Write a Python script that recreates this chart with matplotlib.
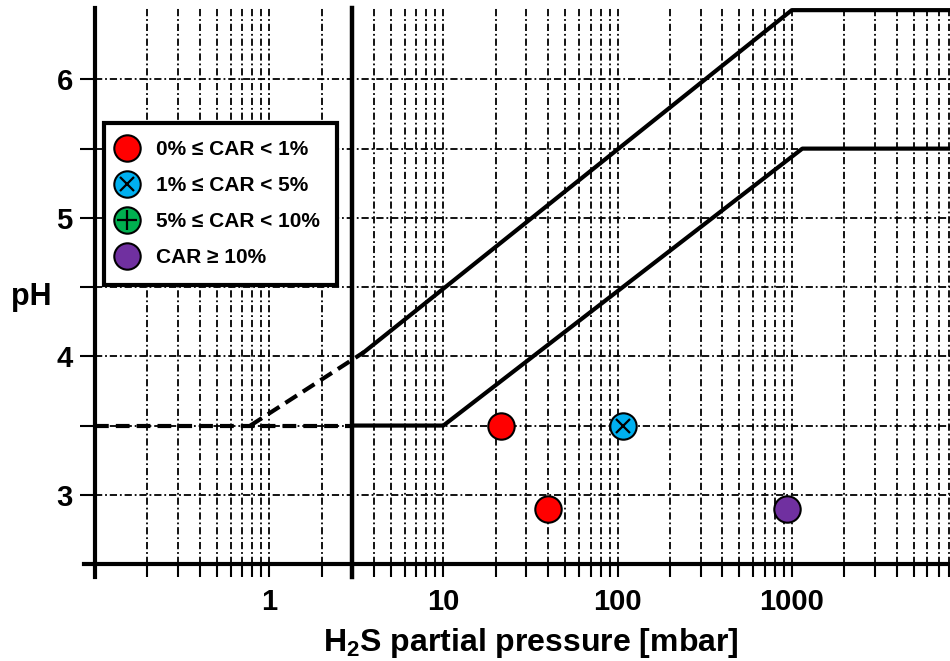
import matplotlib
matplotlib.use('Agg')
import matplotlib.pyplot as plt
from matplotlib.lines import Line2D
from matplotlib.ticker import FixedLocator, FixedFormatter, LogLocator, NullFormatter

plt.rcParams['font.family'] = ['Liberation Sans', 'DejaVu Sans']
plt.rcParams['font.weight'] = 'bold'
plt.rcParams['mathtext.default'] = 'regular'

# boundary lines: H2S partial pressure [mbar] vs pH
lower_dash_p = [0.1, 3]
lower_dash_ph = [3.5, 3.5]
lower_p = [3, 10, 1150, 8100]
lower_ph = [3.5, 3.5, 5.5, 5.5]
upper_dash_p = [0.78, 3.5]
upper_dash_ph = [3.5, 4.03]
upper_p = [3.5, 1000, 8100]
upper_ph = [4.03, 6.5, 6.5]
limit_p = 3

# test results by CAR class
red_p = [21.5, 40]
red_ph = [3.5, 2.9]
blue_p = [108]
blue_ph = [3.5]
green_p = []
green_ph = []
purple_p = [940]
purple_ph = [2.9]

labels = ['0% ≤ CAR < 1%', '1% ≤ CAR < 5%', '5% ≤ CAR < 10%', 'CAR ≥ 10%']
xticks = [1, 10, 100, 1000]
xticklabels = ['1', '10', '100', '1000']
yticks = [3, 4, 5, 6]
yminor = [3.5, 4.5, 5.5]

RED = '#FF0000'
BLUE = '#00B0F0'
GREEN = '#00B050'
PURPLE = '#7030A0'
MS = 19

fig = plt.figure(figsize=(9.5, 6.61), dpi=100)
ax = fig.add_axes([0.1, 0.1467, 0.9, 0.8411])
ax.set_xscale('log')
ax.set_xlim(0.1, 8100)
ax.set_ylim(2.5, 6.515)

ax.xaxis.set_major_locator(FixedLocator(xticks))
ax.xaxis.set_major_formatter(FixedFormatter(xticklabels))
ax.xaxis.set_minor_locator(LogLocator(base=10, subs=range(2, 10), numticks=20))
ax.xaxis.set_minor_formatter(NullFormatter())
ax.yaxis.set_major_locator(FixedLocator(yticks))
ax.yaxis.set_minor_locator(FixedLocator(yminor))

gridstyle = dict(color='black', lw=1.3, ls=(0, (4, 1.6, 1, 1.6)))
ax.grid(True, which='both', **gridstyle)
ax.set_axisbelow(True)

ax.tick_params(which='both', direction='out', width=1.5, color='black')
ax.tick_params(axis='x', which='both', length=9.5, labelsize=21, pad=8)
ax.tick_params(axis='y', which='both', length=11, labelsize=21, pad=5)

for s in ['top', 'right']:
    ax.spines[s].set_visible(False)
for s in ['left', 'bottom']:
    ax.spines[s].set_linewidth(3)

# spine stubs past the corner, like the original
ax.plot([0, 0], [-0.024, 0], transform=ax.transAxes, color='black', lw=3, clip_on=False)
ax.plot([-0.013, 0], [0, 0], transform=ax.transAxes, color='black', lw=3, clip_on=False)

# limit at 3 mbar
ax.plot([limit_p, limit_p], [-0.024, 1], transform=ax.get_xaxis_transform(),
        color='black', lw=3.2, clip_on=False)

dash = (0, (3.3, 1.7))
ax.plot(lower_dash_p, lower_dash_ph, color='black', lw=3, ls=dash)
ax.plot(lower_p, lower_ph, color='black', lw=3)
ax.plot(upper_dash_p, upper_dash_ph, color='black', lw=3, ls=dash)
ax.plot(upper_p, upper_ph, color='black', lw=3)

mk = dict(ls='none', marker='o', ms=MS, mec='black', mew=1.5, zorder=5)
ax.plot(red_p, red_ph, mfc=RED, **mk)
ax.plot(blue_p, blue_ph, mfc=BLUE, **mk)
ax.plot(blue_p, blue_ph, ls='none', marker='x', ms=10, mec='black', mew=1.6, zorder=6)
ax.plot(green_p, green_ph, mfc=GREEN, **mk)
ax.plot(purple_p, purple_ph, mfc=PURPLE, **mk)

h_red = Line2D([], [], mfc=RED, **mk)
h_blue = (Line2D([], [], mfc=BLUE, **mk),
          Line2D([], [], ls='none', marker='x', ms=10, mec='black', mew=1.6))
h_green = (Line2D([], [], mfc=GREEN, **mk),
           Line2D([], [], ls='none', marker='+', ms=14, mec='black', mew=1.6))
h_purple = Line2D([], [], mfc=PURPLE, **mk)

leg = ax.legend([h_red, h_blue, h_green, h_purple], labels,
                loc='upper left', bbox_to_anchor=(0.0105, 0.793), borderaxespad=0,
                prop={'size': 15, 'weight': 'bold'},
                handlelength=0.6, handletextpad=1.08, borderpad=0.82, labelspacing=0.82,
                fancybox=False, edgecolor='black', framealpha=1)
leg.get_frame().set_linewidth(3)

ax.set_ylabel('pH', rotation=0, fontsize=22, fontweight='bold', va='center', ha='center')
ax.yaxis.set_label_coords(-0.074, 0.48)
ax.set_xlabel('H$_2$S partial pressure [mbar]', fontsize=23, fontweight='bold', va='center')
ax.xaxis.set_label_coords(0.51, -0.142)

fig.savefig('out.png', dpi=100)
